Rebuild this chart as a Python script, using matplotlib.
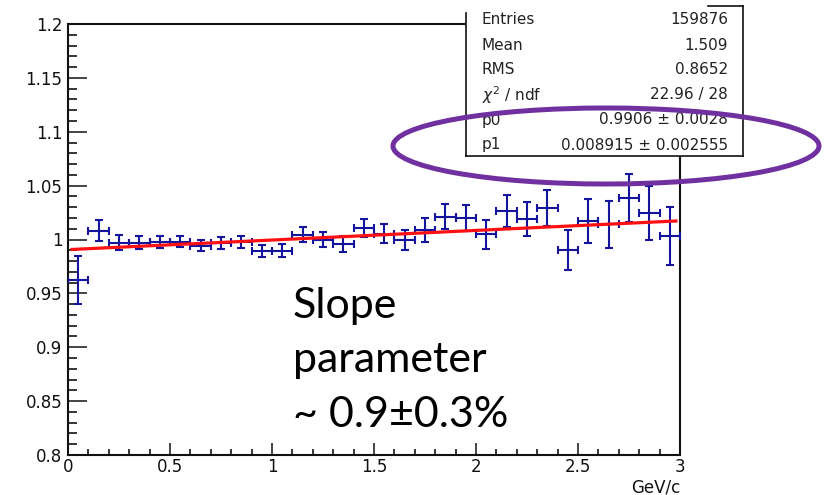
import numpy as np
import matplotlib
matplotlib.use("Agg")
import matplotlib.pyplot as plt
from matplotlib.patches import Ellipse, Rectangle
from matplotlib.lines import Line2D
from matplotlib.ticker import MultipleLocator, FuncFormatter

# ---- data ----
bin_centers = [0.05, 0.15, 0.25, 0.35, 0.45, 0.55, 0.65, 0.75, 0.85, 0.95,
               1.05, 1.15, 1.25, 1.35, 1.45, 1.55, 1.65, 1.75, 1.85, 1.95,
               2.05, 2.15, 2.25, 2.35, 2.45, 2.55, 2.65, 2.75, 2.85, 2.95]
values = [0.9627, 1.0082, 0.9970, 0.9970, 0.9980, 0.9980, 0.9943, 0.9970, 0.9980, 0.9896,
          0.9896, 1.0045, 1.0000, 0.9958, 1.0107, 1.0054, 0.9998, 1.0088, 1.0209, 1.0197,
          1.0048, 1.0262, 1.0190, 1.0290, 0.9905, 1.0172, 1.0141, 1.0385, 1.0246, 1.0032]
errors = [0.0224, 0.0099, 0.0068, 0.0060, 0.0057, 0.0051, 0.0053, 0.0054, 0.0057, 0.0057,
          0.0058, 0.0067, 0.0074, 0.0074, 0.0085, 0.0090, 0.0094, 0.0110, 0.0116, 0.0119,
          0.0133, 0.0150, 0.0161, 0.0167, 0.0184, 0.0201, 0.0218, 0.0226, 0.0250, 0.0266]
half_bin = 0.05
fit_p0 = 0.9906
fit_p1 = 0.008915
fit_range = [0.02, 2.98]

stats_labels = ["Entries", "Mean", "RMS", r"$\chi^2$ / ndf", "p0", "p1"]
stats_values = ["159876", "1.509", "0.8652", "22.96 / 28",
                "0.9906 \u00b1 0.0028", "0.008915 \u00b1 0.002555"]
annotation_lines = ["Slope", "parameter", "~ 0.9\u00b10.3%"]
x_title = "GeV/c"

W, H = 827, 495
def fx(px):
    return px / W
def fy(py):
    return 1 - py / H

plt.rcParams["mathtext.fontset"] = "dejavusans"
fig = plt.figure(figsize=(W / 100, H / 100), dpi=100)
L, R, T, B = 68, 680, 24, 455
ax = fig.add_axes([fx(L), fy(B), fx(R) - fx(L), fy(T) - fy(B)])

blue = "#14149c"
ax.errorbar(bin_centers, values, xerr=half_bin, yerr=errors, fmt="none",
            ecolor=blue, elinewidth=1.5, capsize=3.0, capthick=1.5, zorder=3)
xf = np.array(fit_range)
ax.plot(xf, fit_p0 + fit_p1 * xf, color="#ff1010", lw=2.3, zorder=4)

ax.set_xlim(0, 3)
ax.set_ylim(0.8, 1.2)
ax.xaxis.set_major_locator(MultipleLocator(0.5))
ax.xaxis.set_minor_locator(MultipleLocator(0.1))
ax.yaxis.set_major_locator(MultipleLocator(0.05))
ax.yaxis.set_minor_locator(MultipleLocator(0.01))
fmt = FuncFormatter(lambda v, p: "%g" % round(v, 3))
ax.xaxis.set_major_formatter(fmt)
ax.yaxis.set_major_formatter(fmt)

tick_font = "DejaVu Sans"
ax.tick_params(axis="y", which="major", direction="in", length=13.5, width=1.1,
               pad=4.0, labelsize=12, colors="#111111")
ax.tick_params(axis="y", which="minor", direction="in", length=6.5, width=1.1)
ax.tick_params(axis="x", which="major", direction="in", length=8.6, width=1.1,
               pad=2.5, labelsize=12, colors="#111111")
ax.tick_params(axis="x", which="minor", direction="in", length=4.3, width=1.1)
for lab in ax.get_xticklabels() + ax.get_yticklabels():
    lab.set_fontfamily(tick_font)
for s in ax.spines.values():
    s.set_linewidth(1.5)
    s.set_color("#111111")

fig.text(fx(680), fy(487), x_title, ha="right", va="center",
         fontsize=12, family=tick_font, color="#111111")

# stats box
bx0, bx1, by0, by1 = 466, 743, 13, 156
fig.patches.append(Rectangle((fx(bx0), fy(by1)), fx(bx1) - fx(bx0), fy(by0) - fy(by1),
                             transform=fig.transFigure, facecolor="white",
                             edgecolor="none", zorder=5))
lc = "#111111"
for (xa, ya, xb, yb) in [(bx0, by0, bx0, by1), (bx0, by1, bx1, by1),
                         (bx1, by1, bx1, 6), (708, 6, bx1, 6)]:
    fig.lines.append(Line2D([fx(xa), fx(xb)], [fy(ya), fy(yb)],
                            transform=fig.transFigure, color=lc, lw=1.2, zorder=6))
row_y = [20, 45, 70, 95, 120, 145]
for lab, val, yy in zip(stats_labels, stats_values, row_y):
    fig.text(fx(482), fy(yy), lab, ha="left", va="center", fontsize=11,
             family=tick_font, color="#222222", zorder=7)
    fig.text(fx(728), fy(yy), val, ha="right", va="center", fontsize=11,
             family=tick_font, color="#222222", zorder=7)

# purple ellipse
fig.patches.append(Ellipse((fx(606), fy(146)), 426 / W, 76 / H,
                           transform=fig.transFigure, facecolor="none",
                           edgecolor="#7030a0", lw=3.6, zorder=8))

# annotation
for line, yb in zip(annotation_lines, [318, 372, 427]):
    fig.text(fx(293), fy(yb), line, ha="left", va="baseline", fontsize=31,
             family="Lato", color="black", zorder=9)

fig.savefig("out.png", dpi=100)
